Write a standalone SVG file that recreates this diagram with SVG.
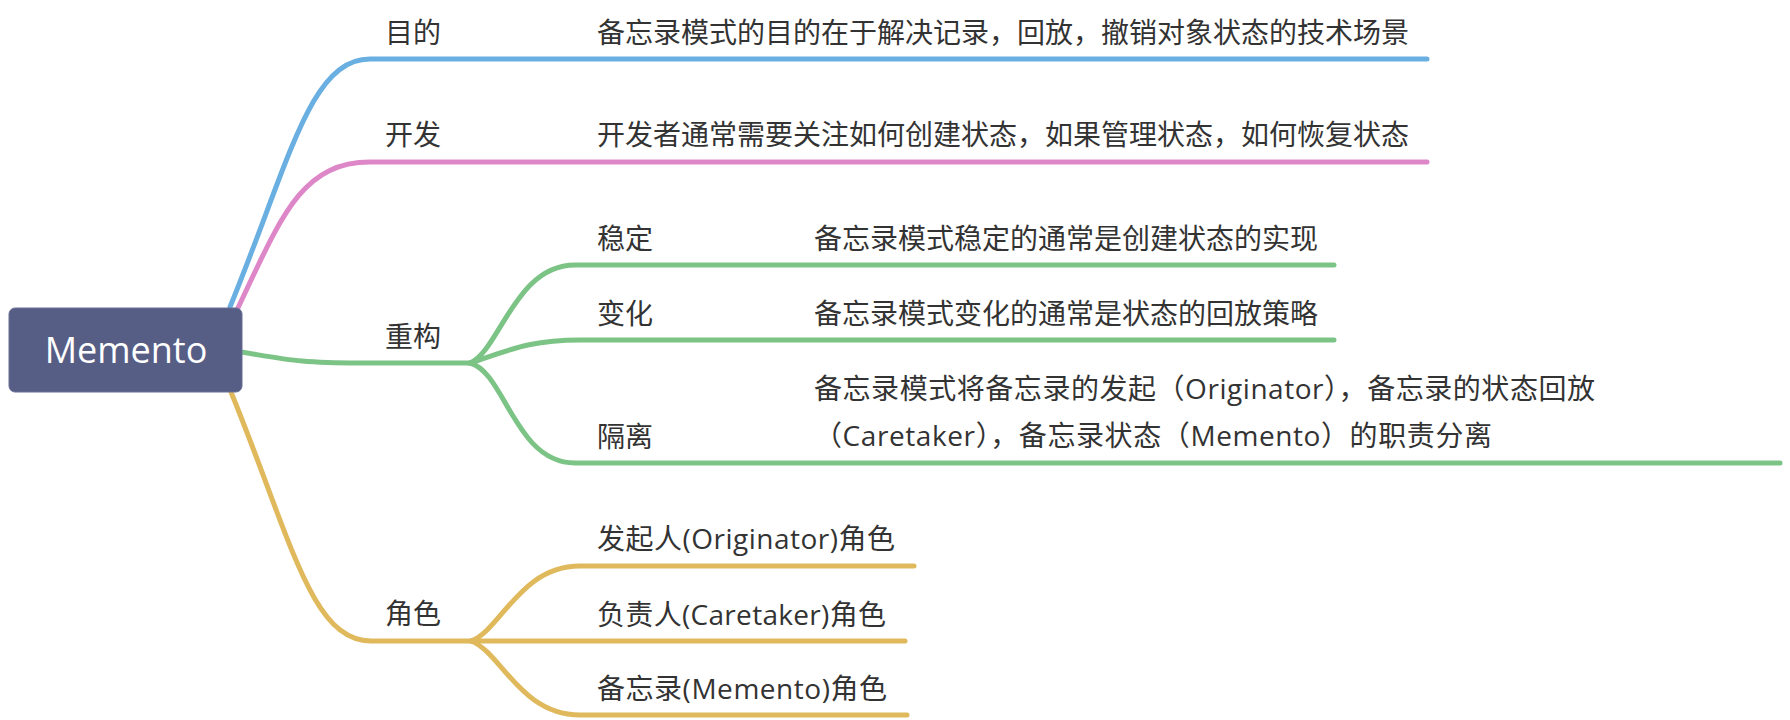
<svg xmlns="http://www.w3.org/2000/svg" width="1790" height="720" viewBox="0 0 1790 720">
<style>
text { font-family: "Open Sans", "Noto Sans CJK SC", sans-serif; font-size: 28px; fill: #333333; }
.root { font-size: 36px; fill: #ffffff; text-anchor: middle; }
.c { fill: none; stroke-width: 5; stroke-linecap: round; stroke-linejoin: round; }
.blue { stroke: #6aafe1; }
.pink { stroke: #de87c8; }
.green { stroke: #7cc386; }
.yellow { stroke: #dfb95c; }
</style>
<rect width="1790" height="720" fill="#ffffff"/>
<g id="connectors">
  <path class="c blue" d="M230,307 C290,160 310,59 370,59 L1427,59"/>
  <path class="c pink" d="M236,312 C280,220 300,162 370,162 L1427,162"/>
  <path class="c green" d="M241,352 C290,360 300,363 360,363 L470,363"/>
  <path class="c green" d="M470,363 C500,350 515,265 575,265 L1334,265"/>
  <path class="c green" d="M470,363 C510,350 530,340 580,340 L1334,340"/>
  <path class="c green" d="M470,363 C505,372 515,463 575,463 L1780,463"/>
  <path class="c yellow" d="M231,392 C291,539 311,641 371,641 L471,641"/>
  <path class="c yellow" d="M471,641 C501,630 520,566 580,566 L914,566"/>
  <path class="c yellow" d="M471,641 L905,641"/>
  <path class="c yellow" d="M471,641 C501,652 520,715 580,715 L907,715"/>
</g>
<g id="root">
  <rect x="9" y="308" width="233" height="84" rx="6" fill="#575e86" stroke="#6a7197" stroke-width="1"/>
  <text class="root" x="126" y="363">Memento</text>
</g>
<g id="n-mudi">
  <text x="385" y="43">目的</text>
</g>
<g id="n-mudi-desc">
  <text x="597" y="43">备忘录模式的目的在于解决记录，回放，撤销对象状态的技术场景</text>
</g>
<g id="n-kaifa">
  <text x="385" y="145">开发</text>
</g>
<g id="n-kaifa-desc">
  <text x="597" y="145">开发者通常需要关注如何创建状态，如果管理状态，如何恢复状态</text>
</g>
<g id="n-chonggou">
  <text x="385" y="347">重构</text>
</g>
<g id="n-wending">
  <text x="597" y="249">稳定</text>
</g>
<g id="n-wending-desc">
  <text x="814" y="249">备忘录模式稳定的通常是创建状态的实现</text>
</g>
<g id="n-bianhua">
  <text x="597" y="324">变化</text>
</g>
<g id="n-bianhua-desc">
  <text x="814" y="324">备忘录模式变化的通常是状态的回放策略</text>
</g>
<g id="n-geli">
  <text x="597" y="447">隔离</text>
</g>
<g id="n-geli-desc">
  <text x="814" y="399" textLength="781" lengthAdjust="spacing">备忘录模式将备忘录的发起（Originator），备忘录的状态回放</text>
  <text x="814" y="446" textLength="678" lengthAdjust="spacing">（Caretaker），备忘录状态（Memento）的职责分离</text>
</g>
<g id="n-juese">
  <text x="385" y="624">角色</text>
</g>
<g id="n-originator">
  <text x="597" y="549" textLength="298" lengthAdjust="spacing">发起人(Originator)角色</text>
</g>
<g id="n-caretaker">
  <text x="597" y="625" textLength="289" lengthAdjust="spacing">负责人(Caretaker)角色</text>
</g>
<g id="n-memento">
  <text x="597" y="699" textLength="290" lengthAdjust="spacing">备忘录(Memento)角色</text>
</g>
</svg>
